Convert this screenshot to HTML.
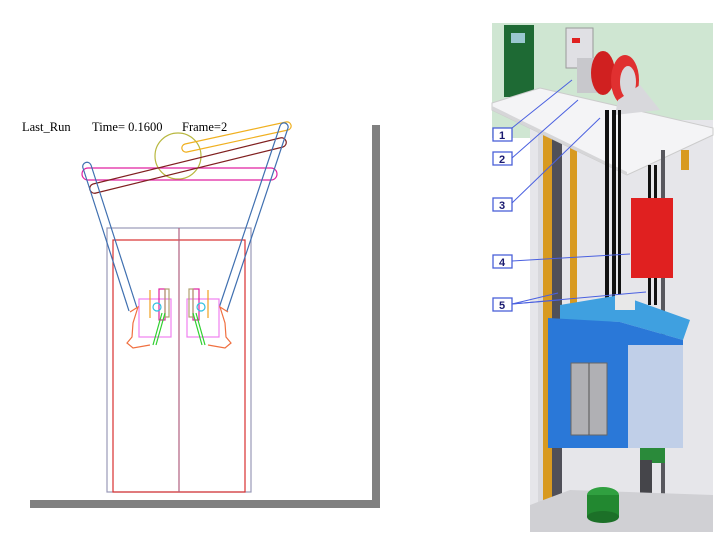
<!DOCTYPE html>
<html><head><meta charset="utf-8"><style>
html,body{margin:0;padding:0;background:#fff;width:720px;height:540px;overflow:hidden}
svg{display:block}
text{font-family:"Liberation Serif",serif}
.lab{font-family:"Liberation Sans",sans-serif;font-weight:bold;font-size:11px;fill:#1a1a70}
</style></head><body>
<svg width="720" height="540" viewBox="0 0 720 540" xmlns="http://www.w3.org/2000/svg">
<rect width="720" height="540" fill="#fff"/>
<rect x="372" y="125" width="8" height="382" fill="#808080"/>
<rect x="30" y="500" width="350" height="8" fill="#808080"/>
<text x="22" y="131" font-size="12.5" fill="#000">Last_Run</text>
<text x="92" y="131" font-size="12.5" fill="#000">Time=  0.1600</text>
<text x="182" y="131" font-size="12.5" fill="#000">Frame=2</text>
<g fill="none" stroke-width="1.2">
<rect x="107" y="228" width="144" height="264" stroke="#9a9ab8"/>
<rect x="113" y="240" width="132" height="252" stroke="#d83030"/>
<line x1="179" y1="228" x2="179" y2="492" stroke="#b06080"/>
<circle cx="178" cy="156" r="23" stroke="#b8b840"/>
<rect x="82" y="168" width="195" height="12" rx="6" stroke="#e020a0"/>
<path d="M185,144 L286,122 M187,152 L288,130 M185,144 A4,4 0 0 0 187,152 M286,122 A4,4 0 0 1 288,130" stroke="#f0b020"/>
<path d="M93,184 L280,138 M96,193 L283,147 M93,184 A4.5,4.5 0 0 0 96,193 M280,138 A4.5,4.5 0 0 1 283,147" stroke="#802020"/>
<path d="M83,168 L129,311 M91,165 L137,308 M83,168 A4,4 0 0 1 91,165" stroke="#4070b0"/>
<path d="M280,126 L219,308 M288,128 L227,311 M280,126 A4,4 0 0 1 288,128" stroke="#4070b0"/>
<rect x="139" y="299" width="32" height="38" stroke="#f080f0"/>
<rect x="187" y="299" width="32" height="38" stroke="#f080f0"/>
<line x1="150" y1="290" x2="150" y2="318" stroke="#f0a020"/>
<line x1="208" y1="290" x2="208" y2="318" stroke="#f0a020"/>
<rect x="159" y="289" width="6" height="31" stroke="#e020a0"/>
<rect x="193" y="289" width="6" height="31" stroke="#e020a0"/>
<rect x="165" y="289" width="4" height="28" stroke="#b0a070"/>
<rect x="189" y="289" width="4" height="28" stroke="#b0a070"/>
<circle cx="157" cy="307" r="4" stroke="#30c0e0"/>
<circle cx="201" cy="307" r="4" stroke="#30c0e0"/>
<path d="M162,313 L153,345 M165,313 L156,345" stroke="#30d030"/>
<path d="M196,313 L205,345 M193,313 L202,345" stroke="#30d030"/>
<path d="M130,312 L138,307 L133,323 L132,337 L127,343 L133,348 L150,345" stroke="#f07040"/>
<path d="M228,312 L220,307 L225,323 L226,337 L231,343 L225,348 L208,345" stroke="#f07040"/>
</g>
<rect x="492" y="23" width="221" height="115" fill="#cfe6d2"/>
<rect x="504" y="25" width="30" height="72" fill="#1e6a34"/>
<rect x="511" y="33" width="14" height="10" fill="#9ac8d0"/>
<rect x="530" y="120" width="183" height="412" fill="#e6e6ea"/>
<rect x="538" y="115" width="10" height="415" fill="#d8d8dc"/>
<rect x="543" y="130" width="9" height="400" fill="#d89a20"/>
<rect x="552" y="130" width="10" height="400" fill="#505058"/>
<rect x="570" y="145" width="7" height="165" fill="#d89a20"/>
<polygon points="492,103 540,88 713,128 713,135 627,175 492,110" fill="#f4f4f6" stroke="#cccccc"/>
<polygon points="492,110 627,175 627,172 492,106" fill="#d6d6d8"/>
<rect x="566" y="28" width="27" height="40" fill="#e0e0e4" stroke="#999"/>
<rect x="572" y="38" width="8" height="5" fill="#e02020"/>
<rect x="577" y="58" width="27" height="35" fill="#c8c8cc"/>
<ellipse cx="603" cy="73" rx="12" ry="22" fill="#d02020"/>
<ellipse cx="625" cy="80" rx="14" ry="25" fill="#e03030"/>
<ellipse cx="628" cy="82" rx="8" ry="16" fill="#d8d8dc"/>
<polygon points="618,100 640,85 660,110 615,115" fill="#d8d8dc"/>
<rect x="605" y="110" width="4" height="200" fill="#111"/>
<rect x="612" y="110" width="4" height="200" fill="#111"/>
<rect x="618" y="110" width="3" height="200" fill="#111"/>
<rect x="648" y="165" width="3" height="140" fill="#111"/>
<rect x="654" y="165" width="3" height="140" fill="#111"/>
<rect x="661" y="150" width="4" height="380" fill="#58585e"/>
<rect x="681" y="150" width="8" height="20" fill="#d89a20"/>
<rect x="631" y="198" width="42" height="80" fill="#e02020"/>
<polygon points="560,305 620,295 690,320 683,340 620,322 560,320" fill="#3fa0e0"/>
<rect x="615" y="294" width="20" height="16" fill="#e8e8e8"/>
<polygon points="548,318 620,322 683,340 683,448 548,448" fill="#2a78d8"/>
<rect x="628" y="345" width="55" height="103" fill="#c0cfe8"/>
<rect x="571" y="363" width="36" height="72" fill="#b0b0b4" stroke="#666"/>
<line x1="589" y1="363" x2="589" y2="435" stroke="#555"/>
<rect x="640" y="448" width="25" height="15" fill="#2a8a3a"/>
<rect x="640" y="460" width="12" height="65" fill="#45454a"/>
<polygon points="530,505 570,490 713,495 713,532 530,532" fill="#d0d0d4"/>
<ellipse cx="603" cy="495" rx="16" ry="8" fill="#30a040"/>
<rect x="587" y="495" width="32" height="22" fill="#228830"/>
<ellipse cx="603" cy="517" rx="16" ry="6" fill="#1c7028"/>
<g stroke="#4a60e0" stroke-width="1">
<line x1="512" y1="128" x2="572" y2="80"/>
<line x1="512" y1="158" x2="578" y2="100"/>
<line x1="512" y1="203" x2="600" y2="118"/>
<line x1="512" y1="261" x2="630" y2="254"/>
<line x1="512" y1="304" x2="558" y2="293"/>
<line x1="512" y1="304" x2="560" y2="300"/>
<line x1="512" y1="304" x2="646" y2="292"/>
</g>
<g fill="#fff" stroke="#4a60d8" stroke-width="1.3">
<rect x="493" y="128" width="19" height="13"/>
<rect x="493" y="152" width="19" height="13"/>
<rect x="493" y="198" width="19" height="13"/>
<rect x="493" y="255" width="19" height="13"/>
<rect x="493" y="298" width="19" height="13"/>
</g>
<text class="lab" x="499" y="139">1</text>
<text class="lab" x="499" y="163">2</text>
<text class="lab" x="499" y="209">3</text>
<text class="lab" x="499" y="266">4</text>
<text class="lab" x="499" y="309">5</text>
</svg>
</body></html>
